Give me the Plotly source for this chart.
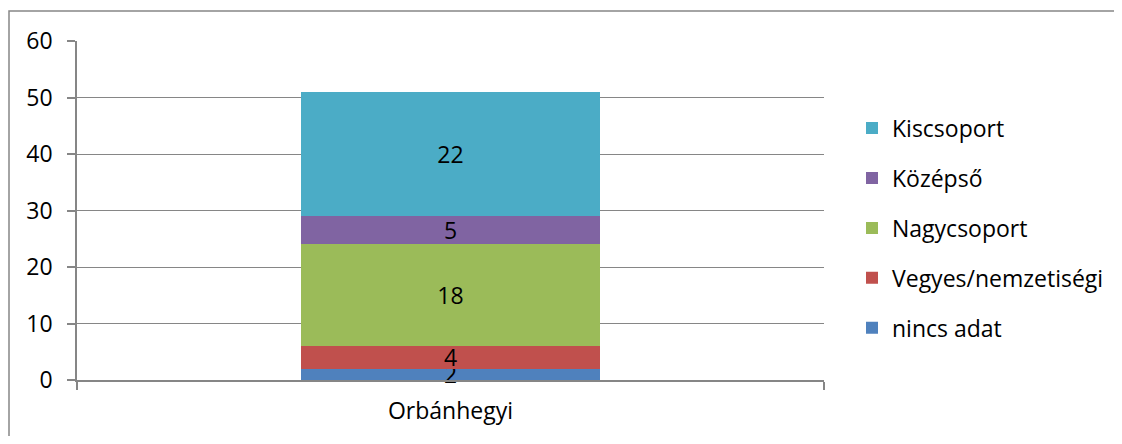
import plotly.graph_objects as go

categories = ["Orbánhegyi"]
series_names = ["nincs adat", "Vegyes/nemzetiségi", "Nagycsoport", "Középső", "Kiscsoport"]
series_values = [[2], [4], [18], [5], [22]]
series_colors = ["#4F81BD", "#C0504D", "#9BBB59", "#8064A2", "#4BACC6"]
y_ticks = [0, 10, 20, 30, 40, 50, 60]

# the page body has an 8px margin; the figure is sized to fit the window
W, H = 1106, 428
L, T = 69, 33
PW, PH = 747, 339
R, B = W - L - PW, H - T - PH
FONT = "'Open Sans', sans-serif"
FS = 23

fig = go.Figure()
n = len(series_names)
for i, (name, vals, col) in enumerate(zip(series_names, series_values, series_colors)):
    fig.add_trace(go.Bar(
        x=categories, y=vals, name=name, marker=dict(color=col, line=dict(width=0)),
        text=[str(v) for v in vals], textposition="inside", insidetextanchor="middle",
        textangle=0, constraintext="none", cliponaxis=False,
        textfont=dict(color="black", size=FS, family=FONT),
        legendgroup=name, legendrank=n - i, hoverinfo="skip",
    ))

fig.add_shape(type="rect", xref="paper", yref="paper",
              x0=(1 - L) / PW, x1=(W + 20 - L) / PW,
              y0=(PH + T - (H + 20)) / PH, y1=(PH + T - 3) / PH,
              line=dict(color="#868686", width=1.5), fillcolor="rgba(0,0,0,0)")

fig.update_layout(
    width=W, height=H, margin=dict(l=L, r=R, t=T, b=B, pad=0, autoexpand=False),
    barmode="stack", bargap=0.6,
    plot_bgcolor="white", paper_bgcolor="white",
    font=dict(family=FONT, size=FS, color="black"),
    legend=dict(traceorder="grouped", tracegroupgap=17,
                x=(844 - L) / PW, xanchor="left", y=0.448, yanchor="middle",
                font=dict(size=FS), itemwidth=30, bgcolor="rgba(0,0,0,0)"),
    showlegend=True,
)
fig.update_xaxes(type="category", range=[-0.5, 0.5], tickson="boundaries",
                 ticks="outside", ticklen=8, tickcolor="#868686", tickwidth=1.5,
                 showline=True, linecolor="#868686", linewidth=1.5, automargin=False,
                 showgrid=False, ticklabelstandoff=10, tickfont=dict(size=FS))
fig.update_yaxes(range=[0, 60], tickvals=y_ticks, ticks="outside", ticklen=8,
                 tickcolor="#868686", tickwidth=1.5, automargin=False,
                 showline=True, linecolor="#868686", linewidth=1.5,
                 showgrid=True, gridcolor="#868686", gridwidth=1, zeroline=False,
                 ticklabelstandoff=10, tickfont=dict(size=FS))

fig.write_html("out.html")
